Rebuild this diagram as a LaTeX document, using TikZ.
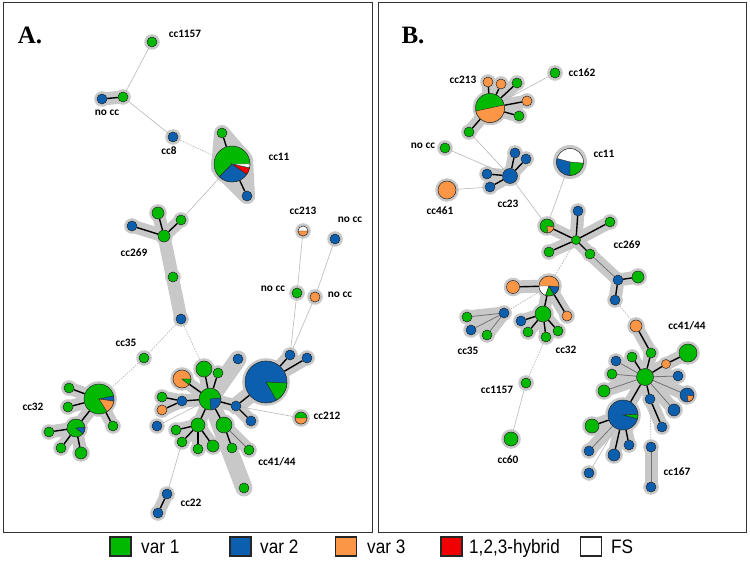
\documentclass[tikz,border=0pt]{standalone}
\usepackage{fontspec}
\setmainfont{Carlito}
\newfontfamily\legfont[FakeStretch=0.88]{Liberation Sans}
\newfontfamily\serifb{Liberation Serif}
\pgfdeclarelayer{bgl}\pgfdeclarelayer{halo}\pgfdeclarelayer{edges}
\pgfsetlayers{bgl,halo,edges,main}
\definecolor{gr}{RGB}{0,185,0}
\definecolor{bl}{RGB}{12,95,175}
\definecolor{og}{RGB}{250,150,70}
\definecolor{rd}{RGB}{240,0,0}
\definecolor{hl}{RGB}{200,200,200}
\definecolor{ln}{RGB}{185,185,185}
\tikzset{
 vtx/.style={circle, draw=black!85, line width=0.5pt, inner sep=0pt},
 band/.style={line width=13pt, hl, line cap=round},
 wband/.style={line width=17pt, hl, line cap=round},
 bedge/.style={black, line width=1.4pt},
 gedge/.style={black!55, line width=0.8pt},
 thinln/.style={ln, line width=0.6pt},
 dsh/.style={ln, line width=0.7pt, dash pattern=on 1.5pt off 1.2pt},
 lab/.style={font=\bfseries\fontsize{11.3}{13}\selectfont, inner sep=0pt},
 frame/.style={draw=black!80, line width=1pt},
 legbox/.style={draw=black!85, line width=1.2pt, minimum width=21pt, minimum height=19pt, inner sep=0pt},
 legtxt/.style={font=\legfont\fontsize{19.5}{21}\selectfont, inner sep=0pt, anchor=base west},
}
\newcommand\V[4]{%
 \begin{pgfonlayer}{halo}\fill[hl] (#2) circle[radius=#3pt+2.8pt];\end{pgfonlayer}%
 \node[vtx, fill=#4, minimum size={2*#3pt}] (#1) at (#2) {};}
\newcommand\W[5]{\filldraw[fill=#5, draw=black!85, line width=0.4pt] (#1.center) -- ++(#3:#2pt) arc[start angle=#3, end angle=#4, radius=#2pt] -- cycle;}
\begin{document}
\begin{tikzpicture}[x=1pt,y=-1pt]
\useasboundingbox (0,0) rectangle (750,569);
\begin{pgfonlayer}{bgl}\fill[white] (0,0) rectangle (750,569);\end{pgfonlayer}
\draw[frame] (3,3) rectangle (372,532);
\draw[frame] (378,3) rectangle (746,532);
\node[font=\serifb\bfseries\fontsize{25}{25}\selectfont, inner sep=0pt] (tA) at (30,35) {A.};
\node[font=\serifb\bfseries\fontsize{25}{25}\selectfont, inner sep=0pt] (tB) at (413,35) {B.};
% ---------- Panel A nodes
\V{a1157}{152,42}{5}{gr}
\V{anb}{102,99}{5}{bl}
\V{ang}{123,97}{5}{gr}
\V{a8}{173,137}{5}{bl}
\V{a11}{232,164}{18}{gr}
\V{a11g}{222,133}{5}{gr}
\V{a11b}{247,196}{5}{bl}
\V{a269b}{132,226}{5}{bl}
\V{a269g1}{158,213}{6}{gr}
\V{a269g2}{181,220}{5}{gr}
\V{a269c}{164,236}{6}{gr}
\V{a269g3}{173,277}{5}{gr}
\V{a269b2}{181,319}{5}{bl}
\V{a213}{303,231}{5}{white}
\V{anb2}{335,239}{5}{bl}
\V{ang2}{297,293}{5}{gr}
\V{ano2}{315,297}{5}{og}
\V{a35}{144,358}{5}{gr}
\V{a32}{99,399}{15}{gr}
\V{a32a}{69,388}{5}{gr}
\V{a32b}{68,407}{5}{gr}
\V{a32c}{113,426}{5}{gr}
\V{a32p}{76,428}{9}{gr}
\V{a32d}{49,432}{5}{gr}
\V{a32e}{61,448}{5}{gr}
\V{a32f}{81,453}{6}{gr}
\V{ah}{210,399}{11}{gr}
\V{aop}{182,379}{9}{og}
\V{ag1}{204,369}{8}{gr}
\V{ag2}{218,373}{5}{gr}
\V{abx}{238,359}{5}{bl}
\V{ag3}{162,397}{5}{gr}
\V{ab3}{182,401}{5}{bl}
\V{ao3}{162,410}{5}{og}
\V{ab4}{157,426}{5}{bl}
\V{ag4}{198,425}{7}{gr}
\V{ag5}{176,430}{5}{gr}
\V{ag6}{182,442}{5}{gr}
\V{ag7}{198,449}{5}{gr}
\V{ag8}{213,446}{6}{gr}
\V{ag9}{224,425}{8}{gr}
\V{ag10}{232,448}{5}{gr}
\V{ag11}{249,450}{5}{gr}
\V{ag12}{244,488}{5}{gr}
\V{ab5}{236,406}{5}{bl}
\V{abp}{266,382}{21}{bl}
\V{ab6}{251,421}{5}{bl}
\V{ab7}{290,355}{5}{bl}
\V{ab8}{307,358}{5}{bl}
\V{a212}{301,418}{6}{gr}
\V{a22a}{167,494}{5}{bl}
\V{a22b}{158,513}{5}{bl}
% pies A
\W{a11}{18}{-135}{-35}{bl}\W{a11}{18}{-35}{-12}{rd}\W{a11}{18}{-12}{0}{white}
\W{a213}{5}{180}{360}{og}
\W{a32}{15}{-8}{12}{bl}\W{a32}{15}{-58}{-8}{og}
\W{a32p}{9}{-40}{5}{bl}
\W{ah}{11}{-85}{5}{bl}
\W{aop}{9}{-40}{0}{gr}
\W{abp}{21}{-60}{-3}{gr}
\W{a212}{6}{180}{360}{og}
% ---------- Panel B nodes
\V{b162}{555,73}{5}{gr}
\V{b213}{490,108}{14.5}{gr}
\V{b1}{488,82}{5}{og}
\V{b2}{501,84}{5}{og}
\V{b3}{517,83}{5}{gr}
\V{b4}{527,101}{5}{og}
\V{b5}{519,116}{5}{gr}
\V{b6}{469,132}{5}{gr}
\V{bnc}{445,148}{5}{gr}
\V{b23}{510,176}{7.5}{bl}
\V{b23a}{487,174}{5}{bl}
\V{b23b}{490,187}{5}{bl}
\V{b23c}{515,153}{5}{bl}
\V{b23d}{526,159}{5}{bl}
\V{b461}{447,190}{9}{og}
\V{b11}{570,162}{13.5}{white}
\V{b269p}{547,226}{7}{gr}
\V{b269}{576,240}{4.5}{gr}
\V{b269a}{578,211}{5}{bl}
\V{b269b}{610,222}{5}{gr}
\V{b269c}{549,252}{5}{gr}
\V{b269d}{590,254}{5}{gr}
\V{b269e}{618,280}{5}{bl}
\V{b269f}{638,277}{6}{gr}
\V{b269g}{615,300}{5}{bl}
\V{b32p}{549,286}{10}{og}
\V{b32o}{513,287}{6.5}{og}
\V{b32g}{543,314}{8}{gr}
\V{b32o2}{567,316}{5}{og}
\V{b32a}{521,321}{5}{bl}
\V{b32b}{528,332}{5}{gr}
\V{b32c}{546,337}{5}{gr}
\V{b32d}{558,331}{5}{gr}
\V{b35}{504,313}{5}{bl}
\V{b35a}{467,317}{5}{gr}
\V{b35b}{471,330}{5}{bl}
\V{b35c}{487,335}{5}{gr}
\V{b1157}{526,383}{5}{gr}
\V{b60}{511,439}{7}{gr}
\V{bo}{636,326}{6}{og}
\V{bg}{651,353}{5}{gr}
\V{bh}{645,377}{8.5}{gr}
\V{bo2}{666,364}{4.5}{og}
\V{bg2}{688,353}{9}{gr}
\V{bg3}{632,357}{5}{gr}
\V{bb1}{616,361}{5}{bl}
\V{bg4}{612,374}{5}{gr}
\V{bg5}{604,391}{6}{gr}
\V{bb2}{678,376}{5}{bl}
\V{bbp}{687,395}{7}{bl}
\V{bb3}{674,410}{6}{bl}
\V{bb4}{650,399}{5}{bl}
\V{bb5}{662,427}{5}{bl}
\V{bbig}{623,415}{15}{bl}
\V{bg6}{592,426}{7}{gr}
\V{bb6}{589,451}{5}{bl}
\V{bb7}{614,455}{6}{bl}
\V{bb8}{629,445}{5}{bl}
\V{bb9}{589,473}{5}{bl}
\V{b167a}{651,447}{5}{bl}
\V{b167b}{651,487}{5}{bl}
% pies B
\W{b213}{14.5}{192}{372}{og}
\W{b11}{13.5}{165}{270}{bl}\W{b11}{13.5}{270}{355}{gr}
\W{b269p}{7}{-85}{-5}{og}
\W{b32p}{10}{180}{250}{white}\W{b32p}{10}{250}{300}{gr}\W{b32p}{10}{300}{355}{bl}
\W{bbp}{7}{-80}{-10}{og}
\W{bbig}{15}{-15}{3}{gr}
% ---------- bands
\begin{pgfonlayer}{halo}
\foreach \p/\q in {anb/ang,a11/a11g,a11/a11b,a269c/a269b,a269c/a269g1,a269c/a269g2,a269c/a269b2,
 a32/a32a,a32/a32b,a32/a32c,a32/a32p,a32p/a32d,a32p/a32e,a32p/a32f,
 ah/ag1,ah/ag2,ah/aop,ah/ab3,ab3/ag3,ab3/ao3,ah/ag4,ag4/ag5,ag4/ag6,ag4/ag7,ag4/ag8,
 ah/ag9,ag9/ag10,ag9/ag11,ah/ab5,ab5/ab6,abp/ab7,abp/ab8,a22a/a22b,
 b213/b1,b213/b2,b213/b3,b213/b4,b213/b5,b213/b6,b23/b23a,b23/b23b,b23/b23c,b23/b23d,
 b269/b269p,b269/b269a,b269/b269b,b269/b269c,b269/b269d,b269d/b269e,b269e/b269f,b269e/b269g,
 b32p/b32o,b32p/b32g,b32p/b32o2,b32g/b32a,b32g/b32b,b32g/b32c,b32g/b32d,
 b35/b35a,b35/b35b,b35/b35c,bo/bg,bg/bh,bh/bo2,bo2/bg2,bh/bg3,bh/bb1,bh/bg4,bh/bg5,bh/bb2,
 bh/bbp,bh/bb3,bh/bb4,bb4/bb5,bh/bbig,bbig/bg6,bbig/bb6,bbig/bb7,bbig/bb8,b167a/b167b}
 \draw[band] (\p.center) -- (\q.center);
\foreach \p/\q in {ah/abx,ah/ag12,ab5/abp}
 \draw[wband] (\p.center) -- (\q.center);
\filldraw[hl, line width=16pt, line join=round] (a11g.center) -- (245,160) -- (a11b.center) -- (219,168) -- cycle;
\fill[hl] (a11.center) circle[radius=21pt];
\fill[hl] (b11.center) circle[radius=17pt];
\end{pgfonlayer}
% ---------- edges
\begin{pgfonlayer}{edges}
\foreach \p/\q in {anb/ang,a11/a11g,a11/a11b,a269c/a269b,a269c/a269g1,a269c/a269g2,
 a32/a32a,a32/a32b,a32/a32c,a32/a32p,a32p/a32d,a32p/a32e,a32p/a32f,
 ah/ag1,ah/ag2,ah/aop,ah/ab3,ab3/ag3,ab3/ao3,ah/ag4,ag4/ag5,ag4/ag6,ag4/ag7,ag4/ag8,
 ah/ag9,ag9/ag10,ah/ab5,ab5/abp,ab5/ab6,abp/ab7,abp/ab8,a22a/a22b,
 b213/b1,b213/b2,b213/b3,b213/b4,b213/b5,b213/b6,b23/b23a,b23/b23b,b23/b23c,b23/b23d,
 b269/b269p,b269/b269a,b269/b269b,b269/b269c,b269/b269d,b269e/b269f,b269e/b269g,
 b32p/b32o,b32p/b32g,b32p/b32o2,b32g/b32a,b32g/b32b,b32g/b32c,b32g/b32d,
 bo/bg,bg/bh,bh/bo2,bo2/bg2,bh/bg3,bh/bb4,bb4/bb5,bh/bbig,bbig/bg6,bbig/bb7,bbig/bb8}
 \draw[bedge] (\p) -- (\q);
\foreach \p/\q in {ag9/ag11,b269d/b269e,b35/b35a,b35/b35b,b35/b35c,bh/bb1,bh/bg4,bh/bg5,bh/bb2,
 bh/bbp,bh/bb3,bbig/bb6,b167a/b167b}
 \draw[gedge] (\p) -- (\q);
\foreach \p/\q in {a1157/ang,ang/a8,a11/a269g2,a213/ang2,anb2/ano2,ang2/ab7,ano2/ab7,ab5/a212,ag6/a22a,ab4/ah,
 b213/b162,b6/b23,bnc/b23,b461/b23b,b23/b269p,b11/b269p,bbig/bb9,b1157/b60}
 \draw[thinln] (\p) -- (\q);
\foreach \p/\q in {a8/a11,a269b2/a35,a35/a32,a269b2/ag1,b269/b32p,b35/b32p,b269g/bo,bb4/b167a,b32c/b1157}
 \draw[dsh] (\p) -- (\q);
\end{pgfonlayer}
% ---------- labels A
\node[lab] (l1) at (185,34) {cc1157};
\node[lab] (l2) at (107,113) {no cc};
\node[lab] (l3) at (169,151) {cc8};
\node[lab] (l4) at (279,157) {cc11};
\node[lab] (l5) at (134,253) {cc269};
\node[lab] (l6) at (303,211) {cc213};
\node[lab] (l7) at (350,220) {no cc};
\node[lab] (l8) at (273,289) {no cc};
\node[lab] (l9) at (340,295) {no cc};
\node[lab] (l10) at (126,343) {cc35};
\node[lab] (l11) at (33,407) {cc32};
\node[lab] (l12) at (327,416) {cc212};
\node[lab] (l13) at (277,462) {cc41/44};
\node[lab] (l14) at (191,503) {cc22};
% ---------- labels B
\node[lab] (m1) at (582,73) {cc162};
\node[lab] (m2) at (463,80) {cc213};
\node[lab] (m3) at (423,146) {no cc};
\node[lab] (m4) at (604,154) {cc11};
\node[lab] (m5) at (440,211) {cc461};
\node[lab] (m6) at (508,204) {cc23};
\node[lab] (m7) at (627,245) {cc269};
\node[lab] (m8) at (687,326) {cc41/44};
\node[lab] (m9) at (468,351) {cc35};
\node[lab] (m10) at (566,350) {cc32};
\node[lab] (m11) at (497,390) {cc1157};
\node[lab] (m12) at (508,460) {cc60};
\node[lab] (m13) at (677,472) {cc167};
% ---------- legend
\node[legbox, fill=gr] (k1) at (120.5,546.5) {};
\node[legtxt] (t1) at (141,553) {var 1};
\node[legbox, fill=bl] (k2) at (240.5,546.5) {};
\node[legtxt] (t2) at (260,553) {var 2};
\node[legbox, fill=og] (k3) at (346,546.5) {};
\node[legtxt] (t3) at (367,553) {var 3};
\node[legbox, fill=rd] (k4) at (451.5,546.5) {};
\node[legtxt] (t4) at (469,553) {1,2,3-hybrid};
\node[legbox, fill=white] (k5) at (591,546.5) {};
\node[legtxt] (t5) at (611,553) {FS};
\end{tikzpicture}
\end{document}
